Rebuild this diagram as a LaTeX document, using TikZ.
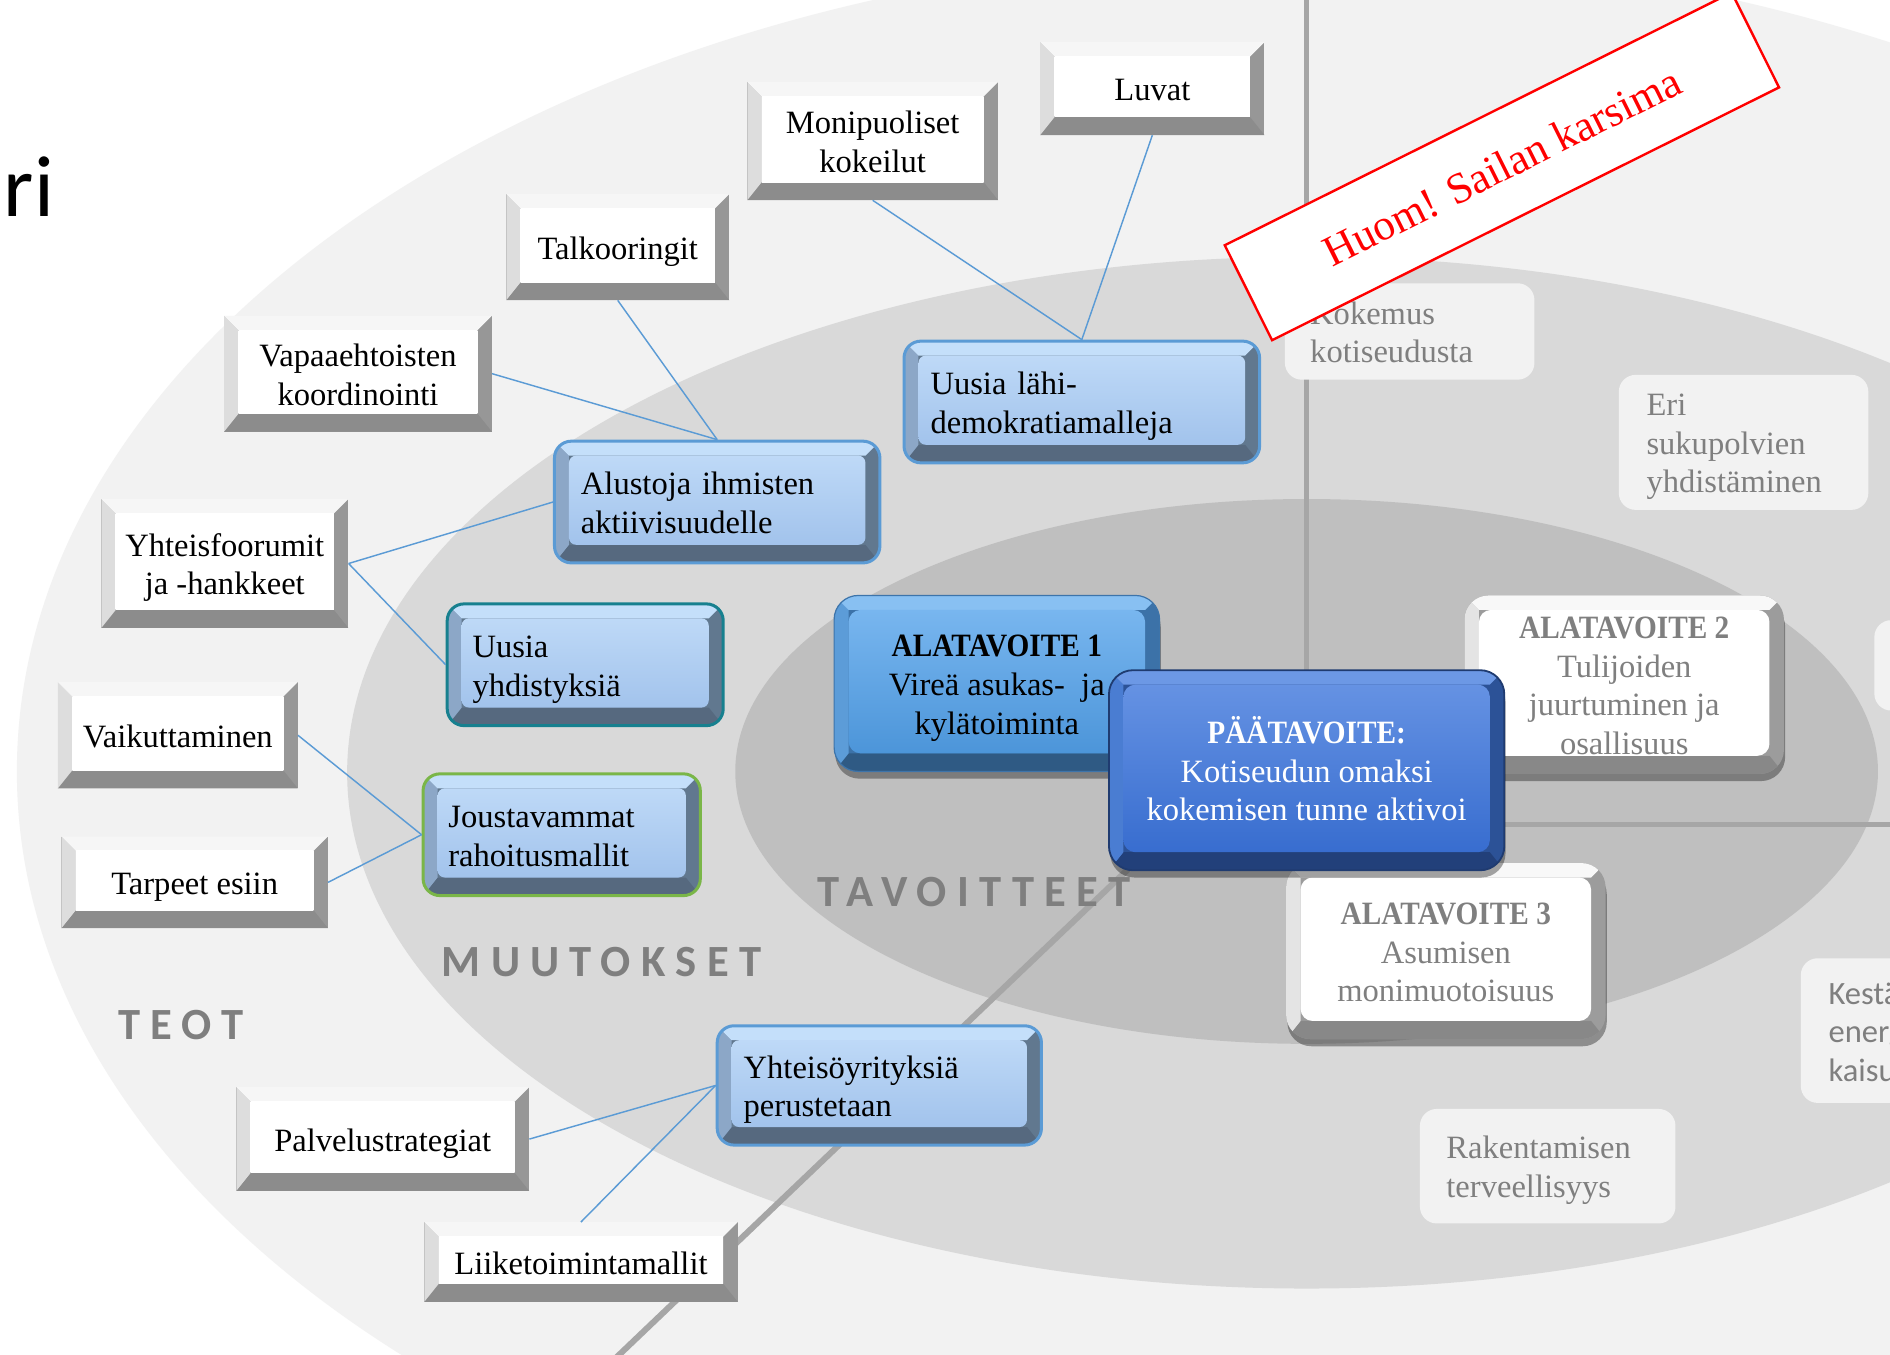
\documentclass[tikz,border=0pt]{standalone}
\usepackage{fontspec}
\setmainfont{Liberation Serif}
\newfontfamily\calib{Carlito}
\newfontfamily\harva[LetterSpace=23]{Carlito}
\newfontfamily\kapea[FakeStretch=0.9]{Liberation Serif}
\usetikzlibrary{shadows}

\definecolor{tausta1}{HTML}{F2F2F2}
\definecolor{tausta2}{HTML}{D9D9D9}
\definecolor{tausta3}{HTML}{BFBFBF}
\definecolor{viiva}{HTML}{A6A6A6}
\definecolor{linkki}{HTML}{5B9BD5}
\definecolor{teksti}{HTML}{7F7F7F}
\definecolor{teoR}{HTML}{979797}
\definecolor{teoV}{HTML}{DDDDDD}
\definecolor{teoY}{HTML}{F6F6F6}
\definecolor{teoA}{HTML}{8C8C8C}
\definecolor{mR}{HTML}{61788F}
\definecolor{mV}{HTML}{8CA7C7}
\definecolor{mY}{HTML}{C4DFFA}
\definecolor{mA}{HTML}{56697F}
\definecolor{mPy}{HTML}{BED9F7}
\definecolor{mPa}{HTML}{A2C3EC}
\definecolor{reunaS}{HTML}{5B9BD5}
\definecolor{reunaT}{HTML}{17808F}
\definecolor{reunaV}{HTML}{7AB648}
\definecolor{a1R}{HTML}{3C72A8}
\definecolor{a1B}{HTML}{3D74AA}
\definecolor{a1V}{HTML}{5C9CD8}
\definecolor{a1Y}{HTML}{88C0F2}
\definecolor{a1A}{HTML}{2F5A84}
\definecolor{a1Py}{HTML}{78B6EF}
\definecolor{a1Pa}{HTML}{4C95D9}
\definecolor{pR}{HTML}{2C5297}
\definecolor{pB}{HTML}{1F3B70}
\definecolor{pV}{HTML}{4A7DD2}
\definecolor{pY}{HTML}{6C98E5}
\definecolor{pA}{HTML}{22407A}
\definecolor{pPy}{HTML}{6592E3}
\definecolor{pPa}{HTML}{386DCF}
\definecolor{vR}{HTML}{9C9C9C}
\definecolor{vV}{HTML}{E4E4E4}
\definecolor{vY}{HTML}{F8F8F8}
\definecolor{vA}{HTML}{888888}

\newcommand\ylos{\rule{0pt}{28pt}}

% viisteet: vasen, yla, ala, pinta ylh., pinta alh., pyoristys
\newcommand\viiste[6]{%
  \path (path picture bounding box.north west) coordinate (pNW)
    (path picture bounding box.north east) coordinate (pNE)
    (path picture bounding box.south west) coordinate (pSW)
    (path picture bounding box.south east) coordinate (pSE);
  \fill[#3,sharp corners] (pSW) -- (pSE) -- ([shift={(-12pt,15pt)}]pSE)
    -- ([shift={(12pt,15pt)}]pSW) -- cycle;
  \fill[#1,sharp corners] (pNW) -- ([shift={(12pt,-12pt)}]pNW)
    -- ([shift={(12pt,15pt)}]pSW) -- (pSW) -- cycle;
  \fill[#2,sharp corners] (pNW) -- (pNE) -- ([shift={(-12pt,-12pt)}]pNE)
    -- ([shift={(12pt,-12pt)}]pNW) -- cycle;
  \shade[top color=#4,bottom color=#5,rounded corners=#6]
    ([shift={(12pt,-12pt)}]pNW) rectangle ([shift={(-12pt,15pt)}]pSE);
}

\begin{document}
\begin{tikzpicture}[x=1pt,y=-1pt,
  every node/.style={font=\fontsize{27}{32}\selectfont,inner sep=0pt},
  tasaus/.style={execute at begin node={\ylos},
    execute at end node={\rule[-8pt]{0pt}{0pt}}},
  teo/.style={tasaus,fill=teoR,align=center,
    path picture={\viiste{teoV}{teoY}{teoA}{white}{white}{0pt}}},
  muutos/.style={tasaus,draw=#1,line width=2.5pt,rounded corners=14pt,fill=mR,align=left,
    path picture={\viiste{mV}{mY}{mA}{mPy}{mPa}{6pt}}},
  tavoite/.style={tasaus,rounded corners=20pt,align=center,line width=1pt,
    drop shadow={shadow xshift=1pt,shadow yshift=-6pt,opacity=.35,fill=black}},
  ala1/.style={tavoite,fill=a1R,draw=a1B,
    path picture={\viiste{a1V}{a1Y}{a1A}{a1Py}{a1Pa}{10pt}}},
  paa/.style={tavoite,fill=pR,draw=pB,line width=1.5pt,text=white,
    path picture={\viiste{pV}{pY}{pA}{pPy}{pPa}{10pt}}},
  sivu/.style={tavoite,fill=vR,text=teksti,
    path picture={\viiste{vV}{vY}{vA}{white}{white}{10pt}}},
  vaalea/.style={tasaus,fill=tausta1,rounded corners=14pt,text=teksti,align=left},
  nimio/.style={font=\harva\bfseries\fontsize{37}{40}\selectfont,text=teksti},
  huom/.style={draw=red,line width=2pt,fill=white,text=red,rotate=26.5,
    minimum width=470,minimum height=88,font=\fontsize{36}{40}\selectfont},
  yhteys/.style={draw=linkki,line width=1.2pt}
]
\useasboundingbox (0,0) rectangle (1568,1124);
\clip (0,0) rectangle (1568,1124);
\fill[white] (0,0) rectangle (1568,1124);

% taustan ellipsit ja viivat
\fill[tausta1] (1082,640) ellipse (1068 and 679);
\fill[tausta2] (1084,641) ellipse (796 and 428);
\fill[tausta3] (1084,640) ellipse (474 and 226);
\draw[viiva,line width=4pt] (1084,-5) -- (1084,640);
\draw[viiva,line width=4pt] (1084,684) -- (1575,684);
\draw[viiva,line width=5pt] (500,1137) -- (1000,660);

\node[font=\calib\fontsize{72}{80}\selectfont,anchor=base west] (otsikko) at (3,180) {ri};

\node[nimio] (teot) at (150,850) {TEOT};
\node[nimio] (muutokset) at (499,798) {MUUTOKSET};
\node[nimio] (tavoitteet) at (808,740) {TAVOITTEET};

% teot
\node[teo,minimum width=186,minimum height=77] (luvat) at (956,73.5) {Luvat};
\node[teo,minimum width=208,minimum height=98] (kokeilut) at (724,117) {\ylos Monipuoliset\\kokeilut};
\node[teo,minimum width=185,minimum height=88] (talkoot) at (512.5,205) {Talkooringit};
\node[teo,minimum width=222,minimum height=96] (vapaa) at (297,310) {\ylos Vapaaehtoisten\\koordinointi};
\node[teo,minimum width=205,minimum height=107] (foorumit) at (186.5,467.5) {\ylos Yhteisfoorumit\\ja -hankkeet};
\node[teo,minimum width=199,minimum height=88] (vaikutus) at (147.5,610) {Vaikuttaminen};
\node[teo,minimum width=221,minimum height=76] (tarpeet) at (161.5,732) {Tarpeet esiin};
\node[teo,minimum width=243,minimum height=86] (palvelut) at (317.5,945) {Palvelustrategiat};
\node[teo,minimum width=260,minimum height=66] (liiketoim) at (482,1047) {Liiketoimintamallit};

% muutokset
\node[muutos=reunaS,minimum width=270,minimum height=101,text width=226pt] (alustat) at (595,416.5) {Alustoja ihmisten\\aktiivisuudelle};
\node[muutos=reunaS,minimum width=295,minimum height=101,text width=251pt] (lahidemo) at (897.5,333.5) {Uusia lähi-\\demokratiamalleja};
\node[muutos=reunaT,minimum width=229,minimum height=101,text width=187pt] (yhdistykset) at (485.5,551.5) {Uusia\\yhdistyksiä};
\node[muutos=reunaV,minimum width=230,minimum height=101,text width=188pt] (rahoitus) at (466,692.5) {Joustavammat\\rahoitusmallit};
\node[muutos=reunaS,minimum width=269,minimum height=99,text width=225pt] (yritykset) at (729.5,900.5) {Yhteisöyrityksiä\\perustetaan};

% tavoitteet
\node[vaalea,minimum width=207,minimum height=80,text width=165pt] (kokemus) at (1169.5,275) {Kokemus\\kotiseudusta};
\node[vaalea,minimum width=207,minimum height=112,text width=161pt] (sukupolvet) at (1446.5,367) {Eri\\sukupolvien\\yhdistäminen};
\node[vaalea,minimum width=212,minimum height=95,text width=168pt] (terveys) at (1284,967.5) {Rakentamisen\\terveellisyys};
\node[vaalea,font=\calib\fontsize{27}{32}\selectfont,minimum width=116,minimum height=120,text width=70pt] (kestava) at (1552,855) {Kestä\\energ\\kaisu};
\node[vaalea,minimum width=90,minimum height=75] (reunalaatikko) at (1600,552) {};

\node[ala1,minimum width=270,minimum height=146] (ala1) at (827,567) {\ylos{\kapea\bfseries ALATAVOITE 1}\\Vireä asukas-~ ja\\kylätoiminta};
\node[sivu,minimum width=265,minimum height=148] (ala2) at (1347.5,568) {\ylos{\kapea\bfseries ALATAVOITE 2}\\Tulijoiden\\juurtuminen ja\\osallisuus};
\node[sivu,minimum width=265,minimum height=146] (ala3) at (1199.5,789) {\ylos{\kapea\bfseries ALATAVOITE 3}\\Asumisen\\monimuotoisuus};
\node[paa,minimum width=328,minimum height=166] (paatavoite) at (1084,639) {\ylos{\kapea\bfseries PÄÄTAVOITE:}\\Kotiseudun omaksi\\kokemisen tunne aktivoi};

\draw[yhteys] (luvat.south) -- (lahidemo.north);
\draw[yhteys] (kokeilut.south) -- (lahidemo.north);
\draw[yhteys] (talkoot.south) -- (alustat.north);
\draw[yhteys] (vapaa.east) -- (alustat.north);
\draw[yhteys] (foorumit.east) -- (alustat.west);
\draw[yhteys] (foorumit.east) -- (yhdistykset.west);
\draw[yhteys] (vaikutus.east) -- (rahoitus.west);
\draw[yhteys] (tarpeet.east) -- (rahoitus.west);
\draw[yhteys] (palvelut.east) -- (yritykset.west);
\draw[yhteys] (liiketoim.north) -- (yritykset.west);

\node[huom] (huomio) at (1246,138) {Huom! Sailan karsima};
\end{tikzpicture}
\end{document}
